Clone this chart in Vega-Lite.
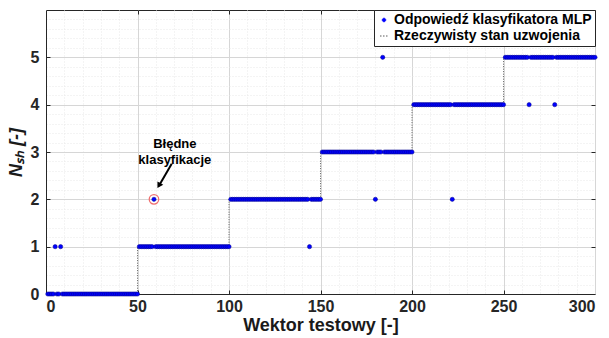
{
  "$schema": "https://vega.github.io/schema/vega-lite/v6.json",
  "width": 549,
  "height": 284,
  "autosize": {"type": "none"},
  "padding": {"left": 46, "top": 10, "right": 14, "bottom": 44},
  "background": "white",
  "config": {
    "font": "Liberation Sans",
    "view": {"stroke": "#262626", "strokeWidth": 1},
    "axis": {
      "labelFont": "Liberation Sans",
      "labelFontWeight": "bold",
      "labelFontSize": 16,
      "labelColor": "#262626",
      "titleFont": "Liberation Sans",
      "titleFontWeight": "bold",
      "titleFontSize": 18,
      "titleColor": "#1a1a1a",
      "domainColor": "#262626",
      "tickColor": "#262626"
    }
  },
  "data": {"name": "test"},
  "datasets": {
    "test": [
      {"i":1,"t":0,"p":0},{"i":2,"t":0,"p":0},{"i":3,"t":0,"p":0},{"i":4,"t":0,"p":0},{"i":5,"t":0,"p":1},
      {"i":6,"t":0,"p":0},{"i":7,"t":0,"p":0},{"i":8,"t":0,"p":1},{"i":9,"t":0,"p":0},{"i":10,"t":0,"p":0},
      {"i":11,"t":0,"p":0},{"i":12,"t":0,"p":0},{"i":13,"t":0,"p":0},{"i":14,"t":0,"p":0},{"i":15,"t":0,"p":0},
      {"i":16,"t":0,"p":0},{"i":17,"t":0,"p":0},{"i":18,"t":0,"p":0},{"i":19,"t":0,"p":0},{"i":20,"t":0,"p":0},
      {"i":21,"t":0,"p":0},{"i":22,"t":0,"p":0},{"i":23,"t":0,"p":0},{"i":24,"t":0,"p":0},{"i":25,"t":0,"p":0},
      {"i":26,"t":0,"p":0},{"i":27,"t":0,"p":0},{"i":28,"t":0,"p":0},{"i":29,"t":0,"p":0},{"i":30,"t":0,"p":0},
      {"i":31,"t":0,"p":0},{"i":32,"t":0,"p":0},{"i":33,"t":0,"p":0},{"i":34,"t":0,"p":0},{"i":35,"t":0,"p":0},
      {"i":36,"t":0,"p":0},{"i":37,"t":0,"p":0},{"i":38,"t":0,"p":0},{"i":39,"t":0,"p":0},{"i":40,"t":0,"p":0},
      {"i":41,"t":0,"p":0},{"i":42,"t":0,"p":0},{"i":43,"t":0,"p":0},{"i":44,"t":0,"p":0},{"i":45,"t":0,"p":0},
      {"i":46,"t":0,"p":0},{"i":47,"t":0,"p":0},{"i":48,"t":0,"p":0},{"i":49,"t":0,"p":0},{"i":50,"t":0,"p":0},
      {"i":51,"t":1,"p":1},{"i":52,"t":1,"p":1},{"i":53,"t":1,"p":1},{"i":54,"t":1,"p":1},{"i":55,"t":1,"p":1},
      {"i":56,"t":1,"p":1},{"i":57,"t":1,"p":1},{"i":58,"t":1,"p":1},{"i":59,"t":1,"p":2},{"i":60,"t":1,"p":1},
      {"i":61,"t":1,"p":1},{"i":62,"t":1,"p":1},{"i":63,"t":1,"p":1},{"i":64,"t":1,"p":1},{"i":65,"t":1,"p":1},
      {"i":66,"t":1,"p":1},{"i":67,"t":1,"p":1},{"i":68,"t":1,"p":1},{"i":69,"t":1,"p":1},{"i":70,"t":1,"p":1},
      {"i":71,"t":1,"p":1},{"i":72,"t":1,"p":1},{"i":73,"t":1,"p":1},{"i":74,"t":1,"p":1},{"i":75,"t":1,"p":1},
      {"i":76,"t":1,"p":1},{"i":77,"t":1,"p":1},{"i":78,"t":1,"p":1},{"i":79,"t":1,"p":1},{"i":80,"t":1,"p":1},
      {"i":81,"t":1,"p":1},{"i":82,"t":1,"p":1},{"i":83,"t":1,"p":1},{"i":84,"t":1,"p":1},{"i":85,"t":1,"p":1},
      {"i":86,"t":1,"p":1},{"i":87,"t":1,"p":1},{"i":88,"t":1,"p":1},{"i":89,"t":1,"p":1},{"i":90,"t":1,"p":1},
      {"i":91,"t":1,"p":1},{"i":92,"t":1,"p":1},{"i":93,"t":1,"p":1},{"i":94,"t":1,"p":1},{"i":95,"t":1,"p":1},
      {"i":96,"t":1,"p":1},{"i":97,"t":1,"p":1},{"i":98,"t":1,"p":1},{"i":99,"t":1,"p":1},{"i":100,"t":1,"p":1},
      {"i":101,"t":2,"p":2},{"i":102,"t":2,"p":2},{"i":103,"t":2,"p":2},{"i":104,"t":2,"p":2},{"i":105,"t":2,"p":2},
      {"i":106,"t":2,"p":2},{"i":107,"t":2,"p":2},{"i":108,"t":2,"p":2},{"i":109,"t":2,"p":2},{"i":110,"t":2,"p":2},
      {"i":111,"t":2,"p":2},{"i":112,"t":2,"p":2},{"i":113,"t":2,"p":2},{"i":114,"t":2,"p":2},{"i":115,"t":2,"p":2},
      {"i":116,"t":2,"p":2},{"i":117,"t":2,"p":2},{"i":118,"t":2,"p":2},{"i":119,"t":2,"p":2},{"i":120,"t":2,"p":2},
      {"i":121,"t":2,"p":2},{"i":122,"t":2,"p":2},{"i":123,"t":2,"p":2},{"i":124,"t":2,"p":2},{"i":125,"t":2,"p":2},
      {"i":126,"t":2,"p":2},{"i":127,"t":2,"p":2},{"i":128,"t":2,"p":2},{"i":129,"t":2,"p":2},{"i":130,"t":2,"p":2},
      {"i":131,"t":2,"p":2},{"i":132,"t":2,"p":2},{"i":133,"t":2,"p":2},{"i":134,"t":2,"p":2},{"i":135,"t":2,"p":2},
      {"i":136,"t":2,"p":2},{"i":137,"t":2,"p":2},{"i":138,"t":2,"p":2},{"i":139,"t":2,"p":2},{"i":140,"t":2,"p":2},
      {"i":141,"t":2,"p":2},{"i":142,"t":2,"p":2},{"i":143,"t":2,"p":2},{"i":144,"t":2,"p":1},{"i":145,"t":2,"p":2},
      {"i":146,"t":2,"p":2},{"i":147,"t":2,"p":2},{"i":148,"t":2,"p":2},{"i":149,"t":2,"p":2},{"i":150,"t":2,"p":2},
      {"i":151,"t":3,"p":3},{"i":152,"t":3,"p":3},{"i":153,"t":3,"p":3},{"i":154,"t":3,"p":3},{"i":155,"t":3,"p":3},
      {"i":156,"t":3,"p":3},{"i":157,"t":3,"p":3},{"i":158,"t":3,"p":3},{"i":159,"t":3,"p":3},{"i":160,"t":3,"p":3},
      {"i":161,"t":3,"p":3},{"i":162,"t":3,"p":3},{"i":163,"t":3,"p":3},{"i":164,"t":3,"p":3},{"i":165,"t":3,"p":3},
      {"i":166,"t":3,"p":3},{"i":167,"t":3,"p":3},{"i":168,"t":3,"p":3},{"i":169,"t":3,"p":3},{"i":170,"t":3,"p":3},
      {"i":171,"t":3,"p":3},{"i":172,"t":3,"p":3},{"i":173,"t":3,"p":3},{"i":174,"t":3,"p":3},{"i":175,"t":3,"p":3},
      {"i":176,"t":3,"p":3},{"i":177,"t":3,"p":3},{"i":178,"t":3,"p":3},{"i":179,"t":3,"p":3},{"i":180,"t":3,"p":2},
      {"i":181,"t":3,"p":3},{"i":182,"t":3,"p":3},{"i":183,"t":3,"p":3},{"i":184,"t":3,"p":5},{"i":185,"t":3,"p":3},
      {"i":186,"t":3,"p":3},{"i":187,"t":3,"p":3},{"i":188,"t":3,"p":3},{"i":189,"t":3,"p":3},{"i":190,"t":3,"p":3},
      {"i":191,"t":3,"p":3},{"i":192,"t":3,"p":3},{"i":193,"t":3,"p":3},{"i":194,"t":3,"p":3},{"i":195,"t":3,"p":3},
      {"i":196,"t":3,"p":3},{"i":197,"t":3,"p":3},{"i":198,"t":3,"p":3},{"i":199,"t":3,"p":3},{"i":200,"t":3,"p":3},
      {"i":201,"t":4,"p":4},{"i":202,"t":4,"p":4},{"i":203,"t":4,"p":4},{"i":204,"t":4,"p":4},{"i":205,"t":4,"p":4},
      {"i":206,"t":4,"p":4},{"i":207,"t":4,"p":4},{"i":208,"t":4,"p":4},{"i":209,"t":4,"p":4},{"i":210,"t":4,"p":4},
      {"i":211,"t":4,"p":4},{"i":212,"t":4,"p":4},{"i":213,"t":4,"p":4},{"i":214,"t":4,"p":4},{"i":215,"t":4,"p":4},
      {"i":216,"t":4,"p":4},{"i":217,"t":4,"p":4},{"i":218,"t":4,"p":4},{"i":219,"t":4,"p":4},{"i":220,"t":4,"p":4},
      {"i":221,"t":4,"p":4},{"i":222,"t":4,"p":2},{"i":223,"t":4,"p":4},{"i":224,"t":4,"p":4},{"i":225,"t":4,"p":4},
      {"i":226,"t":4,"p":4},{"i":227,"t":4,"p":4},{"i":228,"t":4,"p":4},{"i":229,"t":4,"p":4},{"i":230,"t":4,"p":4},
      {"i":231,"t":4,"p":4},{"i":232,"t":4,"p":4},{"i":233,"t":4,"p":4},{"i":234,"t":4,"p":4},{"i":235,"t":4,"p":4},
      {"i":236,"t":4,"p":4},{"i":237,"t":4,"p":4},{"i":238,"t":4,"p":4},{"i":239,"t":4,"p":4},{"i":240,"t":4,"p":4},
      {"i":241,"t":4,"p":4},{"i":242,"t":4,"p":4},{"i":243,"t":4,"p":4},{"i":244,"t":4,"p":4},{"i":245,"t":4,"p":4},
      {"i":246,"t":4,"p":4},{"i":247,"t":4,"p":4},{"i":248,"t":4,"p":4},{"i":249,"t":4,"p":4},{"i":250,"t":4,"p":4},
      {"i":251,"t":5,"p":5},{"i":252,"t":5,"p":5},{"i":253,"t":5,"p":5},{"i":254,"t":5,"p":5},{"i":255,"t":5,"p":5},
      {"i":256,"t":5,"p":5},{"i":257,"t":5,"p":5},{"i":258,"t":5,"p":5},{"i":259,"t":5,"p":5},{"i":260,"t":5,"p":5},
      {"i":261,"t":5,"p":5},{"i":262,"t":5,"p":5},{"i":263,"t":5,"p":5},{"i":264,"t":5,"p":4},{"i":265,"t":5,"p":5},
      {"i":266,"t":5,"p":5},{"i":267,"t":5,"p":5},{"i":268,"t":5,"p":5},{"i":269,"t":5,"p":5},{"i":270,"t":5,"p":5},
      {"i":271,"t":5,"p":5},{"i":272,"t":5,"p":5},{"i":273,"t":5,"p":5},{"i":274,"t":5,"p":5},{"i":275,"t":5,"p":5},
      {"i":276,"t":5,"p":5},{"i":277,"t":5,"p":5},{"i":278,"t":5,"p":4},{"i":279,"t":5,"p":5},{"i":280,"t":5,"p":5},
      {"i":281,"t":5,"p":5},{"i":282,"t":5,"p":5},{"i":283,"t":5,"p":5},{"i":284,"t":5,"p":5},{"i":285,"t":5,"p":5},
      {"i":286,"t":5,"p":5},{"i":287,"t":5,"p":5},{"i":288,"t":5,"p":5},{"i":289,"t":5,"p":5},{"i":290,"t":5,"p":5},
      {"i":291,"t":5,"p":5},{"i":292,"t":5,"p":5},{"i":293,"t":5,"p":5},{"i":294,"t":5,"p":5},{"i":295,"t":5,"p":5},
      {"i":296,"t":5,"p":5},{"i":297,"t":5,"p":5},{"i":298,"t":5,"p":5},{"i":299,"t":5,"p":5},{"i":300,"t":5,"p":5}
    ]
  },
  "resolve": {"axis": {"x": "independent", "y": "independent"}},
  "layer": [
    {
      "description": "minor grid",
      "mark": {"type": "point", "opacity": 0},
      "encoding": {
        "x": {"field": "i", "type": "quantitative", "scale": {"domain": [0, 300], "nice": false},
              "axis": {"orient": "bottom", "values": [10,20,30,40,60,70,80,90,110,120,130,140,160,170,180,190,210,220,230,240,260,270,280,290],
                       "grid": true, "gridColor": "#e8e8e8", "gridDash": [1, 2], "labels": false, "ticks": false, "domain": false, "title": null}},
        "y": {"field": "t", "type": "quantitative", "scale": {"domain": [0, 6], "nice": false},
              "axis": {"orient": "left", "values": [0.2,0.4,0.6,0.8,1.2,1.4,1.6,1.8,2.2,2.4,2.6,2.8,3.2,3.4,3.6,3.8,4.2,4.4,4.6,4.8,5.2,5.4,5.6,5.8],
                       "grid": true, "gridColor": "#e8e8e8", "gridDash": [1, 2], "labels": false, "ticks": false, "domain": false, "title": null}}
      }
    },
    {
      "description": "inward ticks, bottom and left",
      "mark": {"type": "point", "opacity": 0},
      "encoding": {
        "x": {"field": "i", "type": "quantitative",
              "axis": {"orient": "bottom", "values": [50,100,150,200,250], "grid": false, "labels": false, "domain": false,
                       "tickSize": -4, "title": null}},
        "y": {"field": "t", "type": "quantitative",
              "axis": {"orient": "left", "values": [1,2,3,4,5], "grid": false, "labels": false, "domain": false,
                       "tickSize": -4, "title": null}}
      }
    },
    {
      "description": "inward ticks, top and right",
      "mark": {"type": "point", "opacity": 0},
      "encoding": {
        "x": {"field": "i", "type": "quantitative",
              "axis": {"orient": "top", "values": [50,100,150,200,250], "grid": false, "labels": false, "domain": false,
                       "tickSize": -4, "title": null}},
        "y": {"field": "t", "type": "quantitative",
              "axis": {"orient": "right", "values": [1,2,3,4,5], "grid": false, "labels": false, "domain": false,
                       "tickSize": -4, "title": null}}
      }
    },
    {
      "description": "true winding state",
      "mark": {"type": "line", "interpolate": "step-before", "strokeWidth": 1, "strokeDash": [1, 1.5]},
      "encoding": {
        "x": {"field": "i", "type": "quantitative",
              "axis": {"orient": "bottom", "values": [0,50,100,150,200,250,300], "grid": true, "gridColor": "#d6d6d6",
                       "ticks": false, "labelPadding": 4, "title": "Wektor testowy [-]", "titlePadding": 2}},
        "y": {"field": "t", "type": "quantitative",
              "axis": {"orient": "left", "values": [0,1,2,3,4,5], "grid": true, "gridColor": "#d6d6d6",
                       "ticks": false, "labelPadding": 7, "title": "Nₛₕ [-]", "titleFontStyle": "italic", "titlePadding": 5}},
        "color": {"datum": "Rzeczywisty stan uzwojenia", "type": "nominal",
                  "scale": {"domain": ["Odpowiedź klasyfikatora MLP", "Rzeczywisty stan uzwojenia"], "range": ["#0000ff", "#5a5a5a"]},
                  "legend": {
                    "title": null, "orient": "top-right", "offset": 0, "padding": 3,
                    "strokeColor": "#262626", "fillColor": "white", "cornerRadius": 0,
                    "labelFont": "Liberation Sans", "labelFontSize": 14, "labelFontWeight": "bold", "labelColor": "#000000",
                    "labelLimit": 0, "labelOffset": 3, "rowPadding": 2, "symbolOffset": 0,
                    "encode": {"symbols": {"update": {
                      "shape": {"signal": "datum.label === 'Rzeczywisty stan uzwojenia' ? 'stroke' : 'circle'"},
                      "size": {"signal": "datum.label === 'Rzeczywisty stan uzwojenia' ? 64 : 12"},
                      "strokeDash": {"signal": "datum.label === 'Rzeczywisty stan uzwojenia' ? [1.5, 1.5] : [1, 0]"},
                      "fill": {"signal": "datum.label === 'Rzeczywisty stan uzwojenia' ? 'transparent' : '#0000ff'"},
                      "stroke": {"signal": "datum.label === 'Rzeczywisty stan uzwojenia' ? '#8a8a8a' : '#0000ff'"},
                      "strokeWidth": {"value": 1},
                      "opacity": {"value": 1}
                    }}}
                  }}
      }
    },
    {
      "description": "MLP classifier output",
      "mark": {"type": "point", "filled": true, "size": 18, "stroke": "#00008b", "strokeWidth": 0.5, "opacity": 1},
      "encoding": {
        "x": {"field": "i", "type": "quantitative", "axis": null},
        "y": {"field": "p", "type": "quantitative", "axis": null},
        "color": {"datum": "Odpowiedź klasyfikatora MLP", "type": "nominal"}
      }
    },
    {
      "description": "ring around the misclassified sample",
      "data": {"values": [{}]},
      "mark": {"type": "point", "filled": false, "size": 90, "stroke": "#f07070", "strokeWidth": 1.3, "opacity": 1},
      "encoding": {
        "x": {"datum": 59, "type": "quantitative", "axis": null},
        "y": {"datum": 2, "type": "quantitative", "axis": null}
      }
    },
    {
      "description": "arrow shaft",
      "data": {"values": [{"ax": 68.7, "ay": 2.75}, {"ax": 62.2, "ay": 2.32}]},
      "mark": {"type": "line", "color": "#000000", "strokeWidth": 2},
      "encoding": {
        "x": {"field": "ax", "type": "quantitative", "axis": null},
        "y": {"field": "ay", "type": "quantitative", "axis": null}
      }
    },
    {
      "description": "arrow head",
      "data": {"values": [{}]},
      "mark": {"type": "point", "shape": "triangle-up", "filled": true, "color": "#000000", "size": 45, "angle": 210, "opacity": 1},
      "encoding": {
        "x": {"datum": 61.7, "type": "quantitative", "axis": null},
        "y": {"datum": 2.29, "type": "quantitative", "axis": null}
      }
    },
    {
      "description": "annotation text",
      "data": {"values": [{}]},
      "mark": {"type": "text", "font": "Liberation Sans", "fontWeight": "bold", "fontSize": 13, "lineHeight": 16,
               "align": "center", "baseline": "middle", "color": "#000000",
               "text": ["Błędne", "klasyfikacje"]},
      "encoding": {
        "x": {"datum": 70.4, "type": "quantitative", "axis": null},
        "y": {"datum": 3.16, "type": "quantitative", "axis": null}
      }
    }
  ]
}
